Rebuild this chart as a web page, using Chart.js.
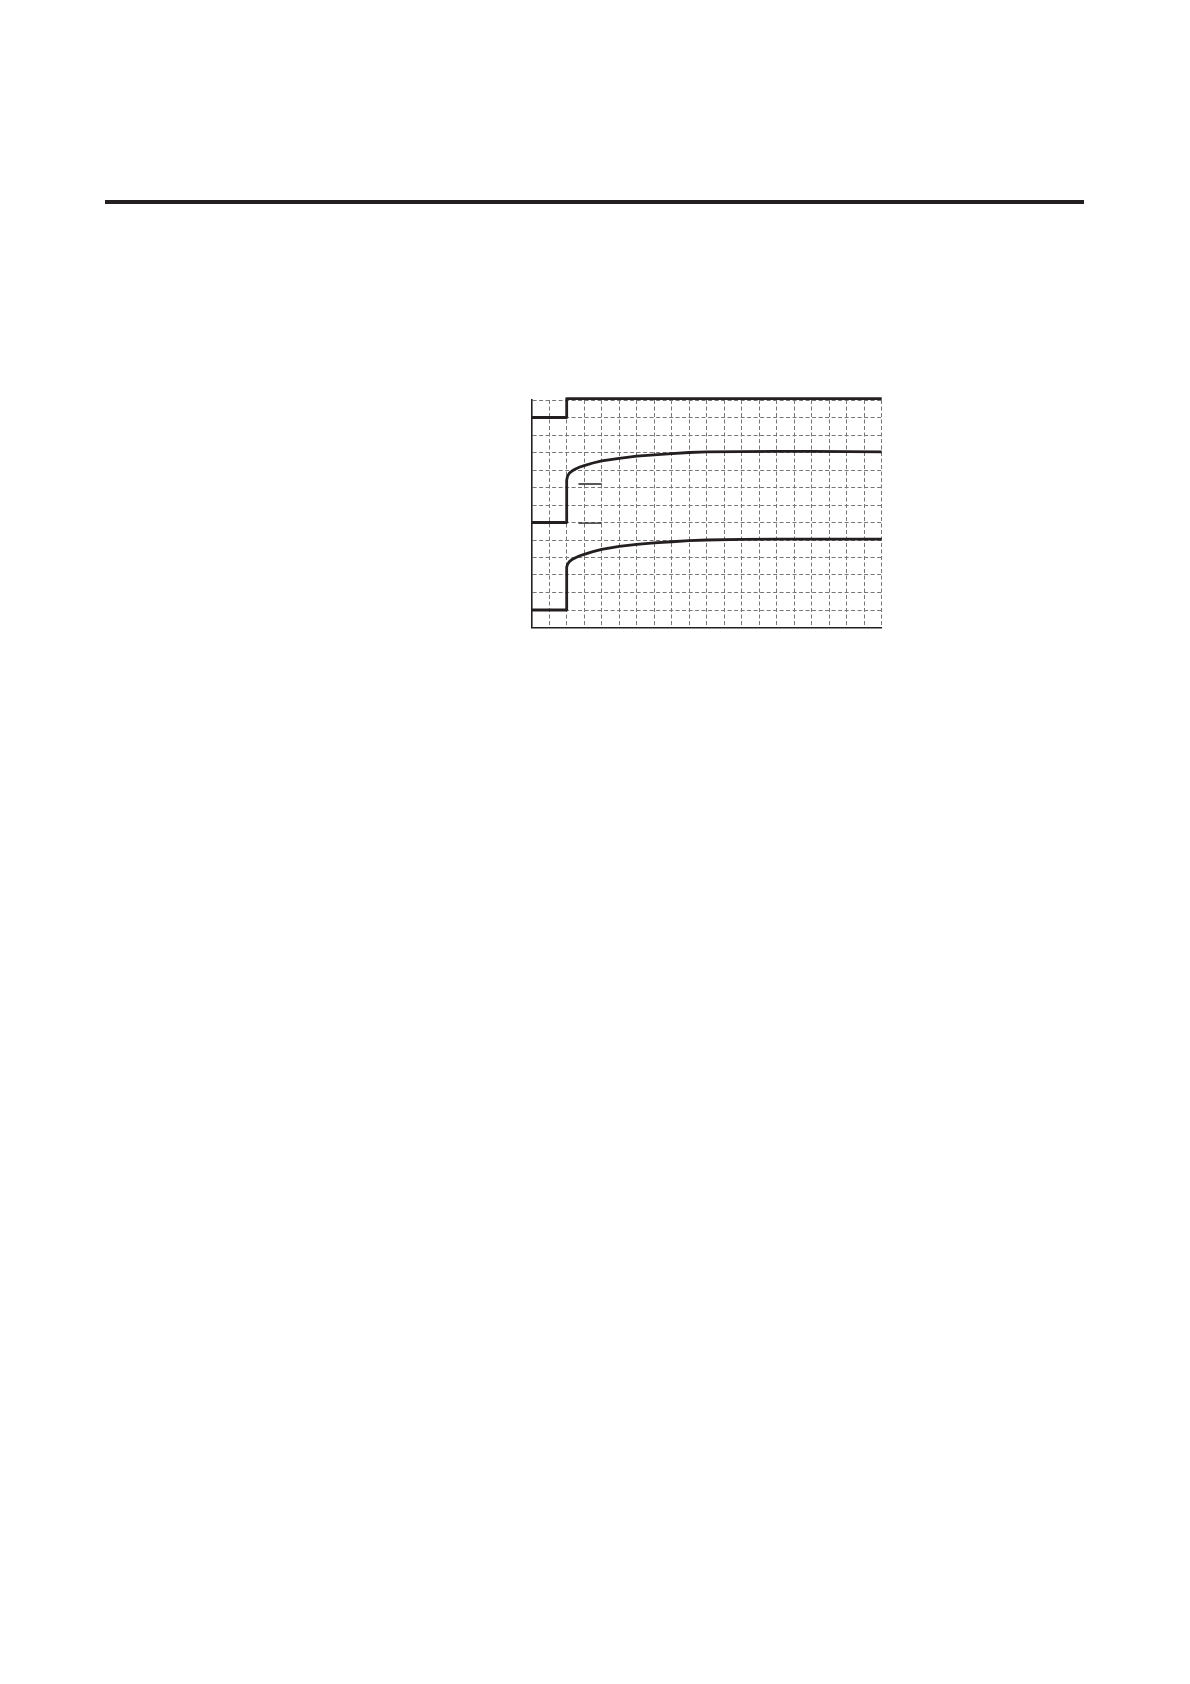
<!DOCTYPE html>
<html>
<head>
<meta charset="utf-8">
<script src="https://cdn.jsdelivr.net/npm/chart.js@4/dist/chart.umd.min.js"></script>
<style>
  html, body { margin: 0; padding: 0; background: #ffffff; }
  body { width: 1190px; height: 1684px; position: relative; overflow: hidden; }
  #rule { position: absolute; left: 105px; top: 200px; width: 979px; height: 4px; background: #231f20; }
  #wrap { position: absolute; left: 525px; top: 390px; width: 365px; height: 245px; }
</style>
</head>
<body>
<div id="rule"></div>
<div id="wrap"><canvas id="c" width="365" height="245"></canvas></div>
<script>
// x in grid divisions (0..20), y in grid divisions (0..13)
const topX = [0, 2, 2, 20];
const topY = [12, 12, 13.08, 13.08];

const midX = [0, 2, 2, 2.05, 2.15, 2.3, 2.5, 2.75, 3, 3.5, 4, 5, 6, 7, 8, 9, 10, 12, 14, 16, 18, 20];
const midY = [6, 6, 8.43, 8.65, 8.82, 8.94, 9.06, 9.17, 9.25, 9.4, 9.52, 9.67, 9.79, 9.86, 9.94, 10.0, 10.03, 10.05, 10.06, 10.06, 10.05, 10.04];

const lowX = [0, 2, 2, 2.05, 2.15, 2.3, 2.5, 2.75, 3, 3.5, 4, 5, 6, 7, 8, 9, 10, 12, 14, 16, 18, 20];
const lowY = [1, 1, 3.45, 3.62, 3.76, 3.88, 3.99, 4.1, 4.18, 4.34, 4.47, 4.64, 4.75, 4.84, 4.9, 4.96, 5.0, 5.03, 5.05, 5.05, 5.05, 5.05];

const markAX = [2.67, 4.0];
const markAY = [8.2, 8.2];
const markBX = [2.67, 4.0];
const markBY = [5.97, 5.97];

const xMin = 0, xMax = 20, yMin = 0, yMax = 13;

function pts(xs, ys) { return xs.map((x, i) => ({ x: x, y: ys[i] })); }

const ink = '#231f20';
function traceDs(xs, ys, w) {
  return {
    data: pts(xs, ys),
    showLine: true,
    borderColor: ink,
    borderWidth: w,
    pointRadius: 0,
    tension: 0,
    fill: false,
    clip: 6,
    borderJoinStyle: 'round'
  };
}

new Chart(document.getElementById('c'), {
  type: 'scatter',
  data: {
    datasets: [
      traceDs(topX, topY, 2.8),
      traceDs(midX, midY, 2.8),
      traceDs(lowX, lowY, 2.8),
      traceDs(markAX, markAY, 1.3),
      traceDs(markBX, markBY, 1.3)
    ]
  },
  options: {
    responsive: false,
    animation: false,
    devicePixelRatio: 1,
    layout: { padding: { left: 6.7, top: 10, right: 8.3, bottom: 7.5 } },
    plugins: { legend: { display: false }, tooltip: { enabled: false } },
    scales: {
      x: {
        type: 'linear', min: xMin, max: xMax,
        ticks: { display: false, stepSize: 1 },
        grid: { drawTicks: false, color: '#777777', lineWidth: 1 },
        border: { display: true, color: ink, width: 1.6, dash: [4, 2.5] }
      },
      y: {
        type: 'linear', min: yMin, max: yMax,
        ticks: { display: false, stepSize: 1 },
        grid: { drawTicks: false, color: '#777777', lineWidth: 1 },
        border: { display: true, color: ink, width: 1.6, dash: [4, 2.5] }
      }
    }
  }
});
</script>
</body>
</html>
